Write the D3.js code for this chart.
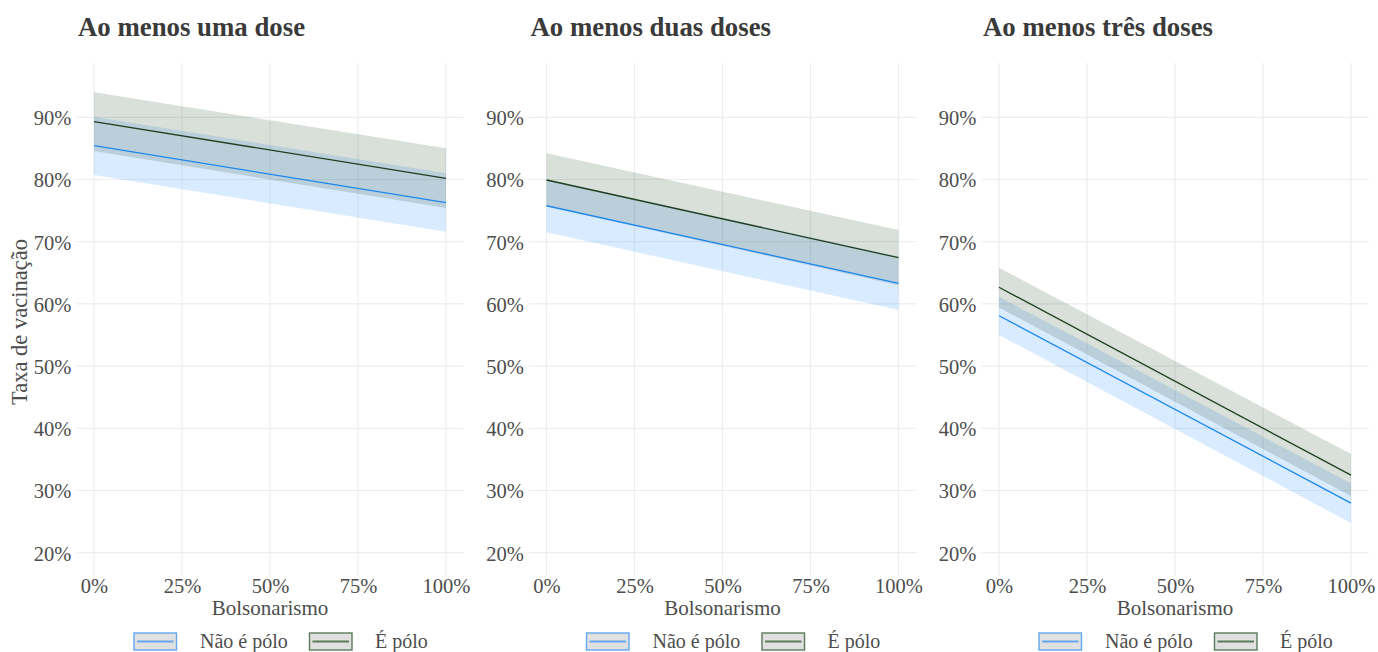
<!DOCTYPE html>
<html>
<head>
<meta charset="utf-8">
<script src="https://cdn.jsdelivr.net/npm/d3@7"></script>
<style>
  html, body { margin: 0; padding: 0; background: #fff; }
  svg { display: block; font-family: "Liberation Serif", "DejaVu Serif", serif; }
</style>
</head>
<body>
<svg id="chart" width="1378" height="652"></svg>
<script>
// ---- data ----
const panelTitles = ["Ao menos uma dose", "Ao menos duas doses", "Ao menos três doses"];
const bolsonarismo = [0, 1];
const xTicks = [0, 0.25, 0.5, 0.75, 1];
const yTicks = [0.2, 0.3, 0.4, 0.5, 0.6, 0.7, 0.8, 0.9];
const seriesNames = ["Não é pólo", "É pólo"];

const naoFit  = [[0.8543, 0.7627], [0.7578, 0.6331], [0.5810, 0.2797]];
const naoLow  = [[0.8072, 0.7161], [0.7151, 0.5902], [0.5500, 0.2476]];
const naoHigh = [[0.9007, 0.8100], [0.8005, 0.6760], [0.6116, 0.3113]];
const poloFit  = [[0.8929, 0.8019], [0.7992, 0.6743], [0.6267, 0.3247]];
const poloLow  = [[0.8460, 0.7540], [0.7565, 0.6300], [0.5942, 0.2910]];
const poloHigh = [[0.9402, 0.8502], [0.8421, 0.7188], [0.6582, 0.3585]];

(function () {
// ---- styles ----
const blueLine = "#1e88f0", blueFill = "#1e90ff", blueAlpha = 0.17;
const greenLine = "#1f3f1f", greenFill = "#2f4f2f", greenAlpha = 0.18;
const gridColor = "#ebedf0";
const textColor = "#4d4d4d";

const svg = d3.select("#chart");
const panelW = 387.2, panelStep = 452.5, panelLeft0 = 76.4;
const pTop = 63, pBottom = 576;

const y = d3.scaleLinear().domain([0.1625, 0.9873]).range([pBottom, pTop]);
const pct = d3.format(".0%");

panelTitles.forEach((title, i) => {
  const x0 = panelLeft0 + i * panelStep;
  const x = d3.scaleLinear().domain([-0.05, 1.05]).range([x0, x0 + panelW]);
  const g = svg.append("g");

  // grid
  g.selectAll(".hg").data(yTicks).join("line")
    .attr("x1", x0).attr("x2", x0 + panelW)
    .attr("y1", d => y(d)).attr("y2", d => y(d))
    .attr("stroke", gridColor).attr("stroke-width", 1.2);
  g.selectAll(".vg").data(xTicks).join("line")
    .attr("x1", d => x(d)).attr("x2", d => x(d))
    .attr("y1", pTop).attr("y2", pBottom)
    .attr("stroke", gridColor).attr("stroke-width", 1.2);

  const idx = bolsonarismo.map((b, k) => k);
  const area = (lo, hi) => d3.area()
    .x(k => x(bolsonarismo[k])).y0(k => y(lo[i][k])).y1(k => y(hi[i][k]));
  const line = (v) => d3.line().x(k => x(bolsonarismo[k])).y(k => y(v[i][k]));

  g.append("path").datum(idx).attr("d", area(naoLow, naoHigh))
    .attr("fill", blueFill).attr("fill-opacity", blueAlpha);
  g.append("path").datum(idx).attr("d", area(poloLow, poloHigh))
    .attr("fill", greenFill).attr("fill-opacity", greenAlpha);
  g.append("path").datum(idx).attr("d", line(naoFit))
    .attr("fill", "none").attr("stroke", blueLine).attr("stroke-width", 1.3);
  g.append("path").datum(idx).attr("d", line(poloFit))
    .attr("fill", "none").attr("stroke", greenLine).attr("stroke-width", 1.3);

  // axes (text only)
  const yAxis = g.append("g").attr("transform", `translate(${x0},0)`)
    .call(d3.axisLeft(y).tickValues(yTicks).tickFormat(pct).tickSize(0).tickPadding(5));
  yAxis.select(".domain").remove();
  yAxis.selectAll("text").attr("font-size", 20.5).attr("fill", textColor)
    .attr("font-family", "Liberation Serif").attr("dy", "0.36em");

  const xAxis = g.append("g").attr("transform", `translate(0,${pBottom})`)
    .call(d3.axisBottom(x).tickValues(xTicks).tickFormat(pct).tickSize(0).tickPadding(0));
  xAxis.select(".domain").remove();
  xAxis.selectAll("text").attr("font-size", 20.5).attr("fill", textColor)
    .attr("font-family", "Liberation Serif").attr("dy", null).attr("y", 17);

  // titles
  g.append("text").attr("x", x(0) - 16).attr("y", 35.5)
    .attr("font-size", 26.8).attr("font-weight", "bold").attr("fill", "#3a3a3a")
    .text(title);
  g.append("text").attr("x", x(0.5)).attr("y", 615).attr("text-anchor", "middle")
    .attr("font-size", 21).attr("fill", textColor).text("Bolsonarismo");

  // legend
  const lx = x(0) + 40;
  const keys = [
    { name: seriesNames[0], bx: lx, tx: lx + 66, col: "#64a6f0" },
    { name: seriesNames[1], bx: lx + 175.5, tx: lx + 241, col: "#5b7b5b" }
  ];
  keys.forEach(k => {
    g.append("rect").attr("x", k.bx).attr("y", 633).attr("width", 42.5).attr("height", 17)
      .attr("fill", "#e0e0e0").attr("stroke", k.col).attr("stroke-width", 1.4);
    g.append("line").attr("x1", k.bx + 3).attr("x2", k.bx + 39.5)
      .attr("y1", 641.5).attr("y2", 641.5).attr("stroke", k.col).attr("stroke-width", 2);
    g.append("text").attr("x", k.tx).attr("y", 647.5).attr("font-size", 20)
      .attr("fill", textColor).text(k.name);
  });
});

// y axis title
svg.append("text").attr("transform", `translate(27,322) rotate(-90)`)
  .attr("text-anchor", "middle").attr("font-size", 22.5).attr("fill", textColor)
  .text("Taxa de vacinação");
})();
</script>
</body>
</html>
